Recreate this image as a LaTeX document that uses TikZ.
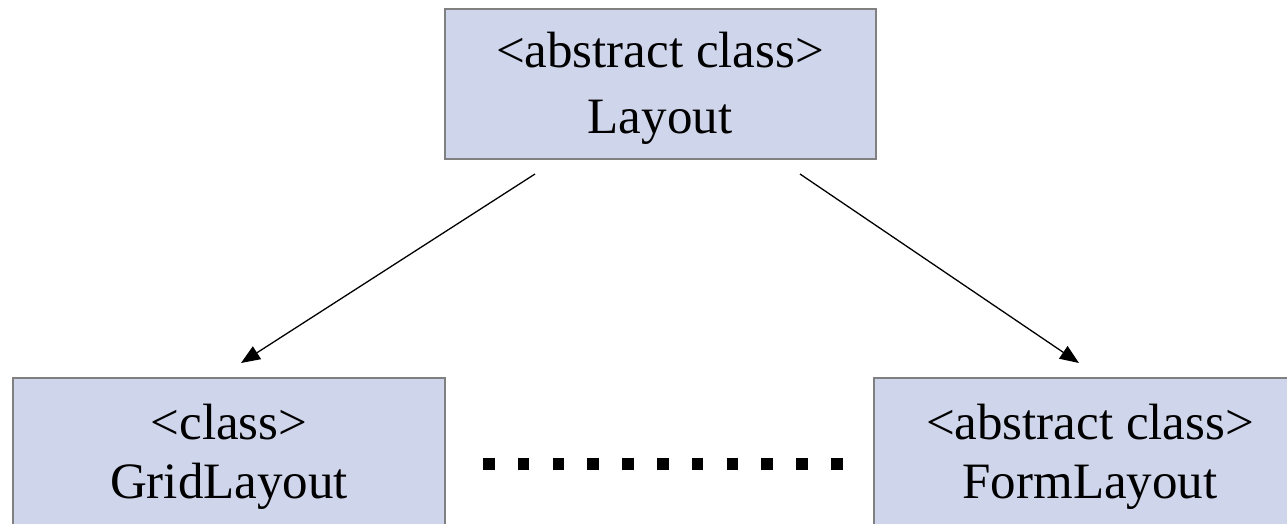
\documentclass[tikz,border=0pt]{standalone}
\usepackage{fontspec}
\setmainfont{Liberation Serif}
\usetikzlibrary{arrows.meta}
\definecolor{boxfill}{RGB}{207,213,234}
\definecolor{boxline}{RGB}{128,128,128}
\begin{document}
\begin{tikzpicture}[x=1pt,y=-1pt,
  classbox/.style={draw=boxline,fill=boxfill,line width=1.5pt,inner sep=0pt},
  lbl/.style={anchor=base,inner sep=0pt,font=\fontsize{51}{60}\selectfont},
  inherit/.style={line width=1.3pt,-{Triangle[length=19pt,width=15pt]}},
  dotline/.style={line width=12pt,dash pattern=on 11.5pt off 23.3pt}]
\useasboundingbox (0,0) rectangle (1287,524);
\clip (0,0) rectangle (1287,524);
% boxes
\node[classbox,minimum width=431pt,minimum height=150pt] (top) at (660.5,84) {};
\node[classbox,minimum width=432pt,minimum height=200pt] (grid) at (229,478) {};
\node[classbox,minimum width=436pt,minimum height=200pt] (form) at (1092,478) {};
% labels
\node[lbl] (t1) at (660,68) {<abstract class>};
\node[lbl] (t2) at (660,133) {Layout};
\node[lbl] (g1) at (229,439) {<class>};
\node[lbl] (g2) at (229,498) {GridLayout};
\node[lbl] (f1) at (1090,439) {<abstract class>};
\node[lbl] (f2) at (1090,498) {FormLayout};
% connectors
\coordinate (s1) at (535,174);
\coordinate (e1) at (241,363);
\coordinate (s2) at (800,174);
\coordinate (e2) at (1079,363);
\draw[inherit] (s1) -- (e1);
\draw[inherit] (s2) -- (e2);
\coordinate (d1) at (483,464);
\coordinate (d2) at (843,464);
\draw[dotline] (d1) -- (d2);
\end{tikzpicture}
\end{document}
